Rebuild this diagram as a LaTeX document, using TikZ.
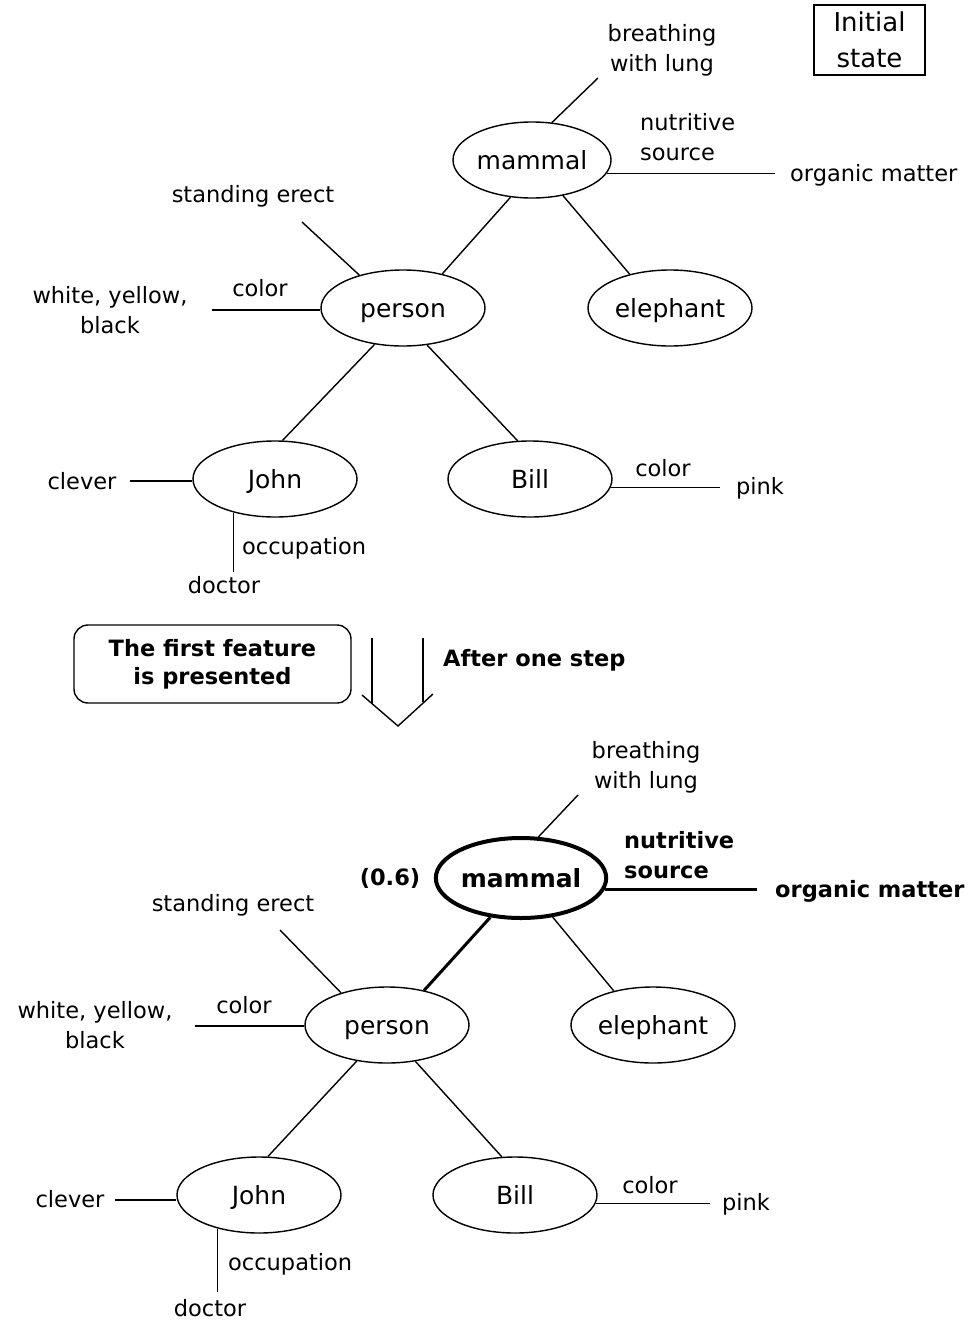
\documentclass[tikz,border=0pt]{standalone}
\usepackage{fontspec}
\setmainfont{DejaVu Sans}
\usetikzlibrary{shapes.geometric}

\begin{document}
\begin{tikzpicture}[x=1pt,y=-1pt,
  concept/.style={ellipse,draw,line width=1.4pt,minimum width=164pt,minimum height=76pt,
    inner sep=0pt,text height=19pt,text depth=0pt,font=\fontsize{25}{30}\selectfont},
  active/.style={concept,line width=4pt,minimum width=166pt,minimum height=80pt,
    font=\fontsize{25}{30}\selectfont\bfseries},
  lbl/.style={inner sep=0pt,align=center,font=\fontsize{22.5}{30}\selectfont},
  blbl/.style={inner sep=0pt,align=center,font=\fontsize{22.5}{30}\selectfont\bfseries},
  link/.style={line width=1.4pt},
  strong/.style={line width=3pt},
]
\useasboundingbox (0,0) rectangle (974,1320);

% ---------- state before ----------
\node[draw,line width=1.3pt,minimum width=111pt,minimum height=70pt,inner sep=0pt,
  align=center,font=\fontsize{26}{36}\selectfont] (init) at (869.5,40) {Initial\\state};

\node[concept,minimum width=158pt] (mammal) at (532,160) {mammal};
\node[concept] (person) at (403,308) {person};
\node[concept] (elephant) at (670,308) {elephant};
\node[concept] (john) at (275,479) {John};
\node[concept] (bill) at (530,479) {Bill};

\node[lbl] (br1) at (662,50) {breathing\\with lung};
\node[lbl,anchor=west,align=left] (ns1) at (640,137) {nutritive\\source};
\node[lbl,anchor=west] (om1) at (790,175) {organic matter};
\node[lbl] (se1) at (253,196) {standing erect};
\node[lbl] (wy1) at (110,310) {white, yellow,\\black};
\node[lbl] (col1) at (260,288) {color};
\node[lbl] (cl1) at (82,481) {clever};
\node[lbl,anchor=west] (oc1) at (242,548) {occupation};
\node[lbl] (dr1) at (224,585) {doctor};
\node[lbl] (bc1) at (663,468) {color};
\node[lbl] (pk1) at (760,488) {pink};

\coordinate (br1e) at (598,78);
\coordinate (om1e) at (775,173);
\coordinate (se1e) at (302,222);
\coordinate (wy1e) at (212,310);
\coordinate (cl1e) at (130,481);
\coordinate (dr1e) at (229,572);
\coordinate (pk1e) at (720,487);

\draw[link] (mammal.-120) -- (person.41);
\draw[link] (mammal.-49) -- (elephant.140);
\draw[link] (person.232) -- (john.79);
\draw[link] (person.-57) -- (bill.108);

\draw[link] (mammal.62) -- (br1e);
\draw[link] (mammal.-10) -- (mammal.-10 -| om1e);
\draw[link] (se1e) -- (person.143);
\draw[link] (wy1e) -- (wy1e -| person.west);
\draw[link] (cl1e) -- (cl1e -| john.west);
\draw[link] (john.219) -- (john.219 |- dr1e);
\draw[link] (bill.-6) -- (bill.-6 -| pk1e);

% ---------- transition ----------
\node[draw,line width=1.4pt,rounded corners=14pt,minimum width=277pt,minimum height=78pt,
  inner sep=0pt,align=center,font=\fontsize{22.5}{28}\selectfont\bfseries] (feat) at (212.5,664)
  {The first feature\\is presented};
\node[blbl,anchor=west] (step) at (443,660) {After one step};
\coordinate (shL) at (372,638);
\coordinate (shR) at (423,638);
\coordinate (tipL) at (362,695);
\coordinate (tipB) at (398,726);
\coordinate (tipR) at (433,694);
\draw[link] (shL) -- (shL |- 0,704);
\draw[link] (shR) -- (shR |- 0,702);
\draw[link] (tipL) -- (tipB) -- (tipR);

% ---------- state after one step ----------
\node[active] (mammal2) at (521,878) {mammal};
\node[concept] (person2) at (387,1025) {person};
\node[concept] (elephant2) at (653,1025) {elephant};
\node[concept] (john2) at (259,1195) {John};
\node[concept] (bill2) at (515,1195) {Bill};

\node[blbl] (act) at (390,878) {(0.6)};
\node[lbl] (br2) at (646,767) {breathing\\with lung};
\node[blbl,anchor=west,align=left] (ns2) at (624,855) {nutritive\\source};
\node[blbl,anchor=west] (om2) at (775,891) {organic matter};
\node[lbl] (se2) at (233,905) {standing erect};
\node[lbl] (wy2) at (95,1025) {white, yellow,\\black};
\node[lbl] (col2) at (244,1005) {color};
\node[lbl] (cl2) at (70,1199) {clever};
\node[lbl,anchor=west] (oc2) at (228,1264) {occupation};
\node[lbl] (dr2) at (210,1308) {doctor};
\node[lbl] (bc2) at (650,1185) {color};
\node[lbl] (pk2) at (746,1204) {pink};

\coordinate (br2e) at (578,795);
\coordinate (om2e) at (757,888);
\coordinate (se2e) at (280,930);
\coordinate (wy2e) at (195,1026);
\coordinate (cl2e) at (115,1200);
\coordinate (dr2e) at (213,1292);
\coordinate (pk2e) at (710,1204);

\draw[strong] (mammal2.-128) -- (person2.43);
\draw[link] (mammal2.-51) -- (elephant2.139);
\draw[link] (person2.230) -- (john2.77);
\draw[link] (person2.-52) -- (bill2.109);

\draw[link] (mammal2.67) -- (br2e);
\draw[strong] (mammal2.-8) -- (mammal2.-8 -| om2e);
\draw[link] (se2e) -- (person2.145);
\draw[link] (wy2e) -- (wy2e -| person2.west);
\draw[link] (cl2e) -- (cl2e -| john2.west);
\draw[link] (john2.219) -- (john2.219 |- dr2e);
\draw[link] (bill2.-6) -- (bill2.-6 -| pk2e);
\end{tikzpicture}
\end{document}
